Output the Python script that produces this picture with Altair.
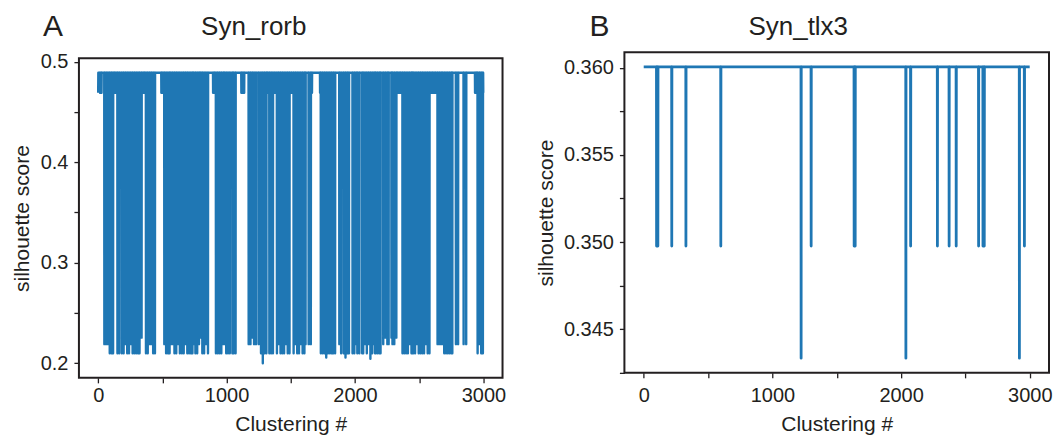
import altair as alt
import pandas as pd

FONT = "Liberation Sans"
INK = "#231f20"
BLUE = "#1f77b4"

panel_letters = ["A", "B"]
panel_titles = ["Syn_rorb", "Syn_tlx3"]
x_title = "Clustering #"
y_title = "silhouette score"

n_clusterings = 3000
x_ticks = [0, 500, 1000, 1500, 2000, 2500, 3000]

# ---- Syn_rorb: value sits at the top level, with dips to the shoulder and to the low levels
rorb_top = 0.489
rorb_mid = 0.469
rorb_mid_x = [0, 14, 26, 126, 138, 350, 360, 492, 504, 792, 895, 905, 1115, 1127, 1137,
              1320, 1376, 1505, 1665, 1728, 2332, 2344, 2356, 2592, 2604, 2616, 2628,
              2935, 2945, 2999]
rorb_low_x = [48, 62, 76, 90, 104, 116,
              150, 164, 184, 198, 212, 226, 240, 254, 268, 282, 296, 310, 322, 338,
              372, 386, 400, 414, 428, 442,
              515, 529, 543, 556,
              566, 580, 594, 608, 622, 636,
              652, 666, 680, 694, 708, 722, 734,
              743, 757, 771, 785,
              800,
              811, 825, 839, 855,
              917, 931, 945, 959, 975,
              983, 997, 1011, 1025, 1045,
              1055, 1070,
              1172, 1186, 1200, 1214,
              1229, 1250,
              1268, 1282, 1296, 1310,
              1333, 1347, 1361,
              1392, 1406, 1420, 1434, 1448, 1462, 1476, 1490,
              1522, 1536, 1550, 1564, 1578, 1592, 1606, 1615,
              1639, 1656,
              1734, 1748, 1762, 1776, 1790, 1804, 1818,
              1831, 1845, 1878, 1892, 1912, 1926, 1940, 1953,
              1981, 1995, 2009, 2018,
              2034, 2056,
              2064, 2078, 2092, 2106, 2120, 2134, 2148, 2156,
              2162, 2176, 2190, 2199,
              2220, 2236, 2252,
              2262, 2284,
              2292, 2306, 2322,
              2370, 2384, 2398, 2412, 2426, 2440, 2446,
              2454, 2468, 2482, 2496, 2510, 2524, 2538, 2552, 2566, 2580,
              2643, 2657, 2671, 2680,
              2695, 2709, 2723, 2737, 2751, 2758,
              2786, 2803,
              2846, 2866,
              2955, 2969, 2983, 2996]
rorb_low_y = [0.219, 0.219, 0.219, 0.210, 0.210, 0.210,
              0.210, 0.210, 0.210, 0.210, 0.219, 0.210, 0.210, 0.219, 0.210, 0.210, 0.210, 0.210, 0.210, 0.2255,
              0.210, 0.210, 0.219, 0.219, 0.210, 0.210,
              0.219, 0.210, 0.210, 0.210,
              0.219, 0.219, 0.210, 0.210, 0.219, 0.210,
              0.210, 0.210, 0.219, 0.210, 0.210, 0.210, 0.210,
              0.219, 0.210, 0.210, 0.219,
              0.2255,
              0.210, 0.210, 0.219, 0.210,
              0.210, 0.210, 0.210, 0.210, 0.219,
              0.219, 0.210, 0.210, 0.210, 0.210,
              0.210, 0.210,
              0.219, 0.219, 0.2255, 0.219,
              0.219, 0.219,
              0.210, 0.200, 0.210, 0.210,
              0.210, 0.210, 0.210,
              0.210, 0.219, 0.210, 0.210, 0.210, 0.219, 0.210, 0.210,
              0.210, 0.219, 0.210, 0.210, 0.219, 0.210, 0.210, 0.219,
              0.219, 0.219,
              0.210, 0.210, 0.210, 0.2057, 0.210, 0.210, 0.210,
              0.210, 0.210, 0.219, 0.210, 0.210, 0.2057, 0.210, 0.210,
              0.210, 0.210, 0.219, 0.210,
              0.210, 0.210,
              0.210, 0.219, 0.210, 0.219, 0.2045, 0.210, 0.219, 0.210,
              0.210, 0.210, 0.210, 0.210,
              0.219, 0.2255, 0.219,
              0.219, 0.2255,
              0.219, 0.219, 0.2255,
              0.210, 0.210, 0.210, 0.210, 0.219, 0.210, 0.210,
              0.210, 0.210, 0.219, 0.210, 0.210, 0.210, 0.210, 0.219, 0.210, 0.210,
              0.219, 0.219, 0.219, 0.219,
              0.210, 0.210, 0.210, 0.210, 0.210, 0.210,
              0.219, 0.219,
              0.219, 0.219,
              0.210, 0.219, 0.210, 0.210]
rorb_y_ticks = [0.20, 0.25, 0.30, 0.35, 0.40, 0.45, 0.50]

# ---- Syn_tlx3
tlx3_top = 0.36006
tlx3_low_x = [100, 110, 218, 328, 599, 1223, 1301, 1635, 1643, 2037, 2074, 2282,
              2373, 2428, 2602, 2636, 2646, 2919, 2958]
tlx3_low_y = [0.34977, 0.34977, 0.34977, 0.34977, 0.34977, 0.34333, 0.34977, 0.34977,
              0.34977, 0.34333, 0.34977, 0.34977, 0.34977, 0.34977, 0.34977, 0.34977,
              0.34977, 0.34333, 0.34977]
tlx3_y_ticks = [0.3425, 0.345, 0.3475, 0.35, 0.3525, 0.355, 0.3575, 0.36]


def series(top, low_x, low_y, mid_x=(), mid=None):
    score = [top] * n_clusterings
    for i in mid_x:
        score[i] = mid
    for i, v in zip(low_x, low_y):
        score[i] = v
    return pd.DataFrame({"clustering": list(range(n_clusterings)), "score": score})


rorb_df = series(rorb_top, rorb_low_x, rorb_low_y, rorb_mid_x, rorb_mid)
tlx3_df = series(tlx3_top, tlx3_low_x, tlx3_low_y)


def panel(df, y_domain, y_ticks, y_fmt, y_expr, x_lab_pad, y_lab_pad, y_tit_pad,
          letter, letter_xy, title, title_xy, width, view_h, frame_top, line_w):
    frame_bottom = view_h
    line = alt.Chart(df).mark_line(color=BLUE, strokeWidth=line_w, strokeJoin="round",
                                   clip=True).encode(
        x=alt.X("clustering:Q",
                scale=alt.Scale(domain=[-150, 3149], nice=False, zero=False),
                axis=alt.Axis(values=x_ticks, format="d",
                              labelExpr="datum.value % 1000 === 0 ? datum.label : ''",
                              title=x_title, labelPadding=x_lab_pad, titlePadding=8)),
        y=alt.Y("score:Q",
                scale=alt.Scale(domain=y_domain, nice=False, zero=False,
                                range=[frame_bottom, frame_top]),
                axis=alt.Axis(values=y_ticks, format=y_fmt, labelExpr=y_expr,
                              title=y_title, labelPadding=y_lab_pad,
                              titlePadding=y_tit_pad)),
    )
    one = pd.DataFrame({"t": [letter]})
    frame = alt.Chart(one).mark_rect(filled=False, stroke=INK, strokeWidth=2).encode(
        x=alt.value(0), x2=alt.value(width), y=alt.value(frame_top), y2=alt.value(frame_bottom)
    )
    let = alt.Chart(one).mark_text(
        font=FONT, fontSize=30, color=INK, align="left", baseline="alphabetic"
    ).encode(text="t:N", x=alt.value(letter_xy[0]), y=alt.value(letter_xy[1]))
    tit = alt.Chart(pd.DataFrame({"t": [title]})).mark_text(
        font=FONT, fontSize=26, color=INK, align="center", baseline="alphabetic"
    ).encode(text="t:N", x=alt.value(title_xy[0]), y=alt.value(title_xy[1]))
    return alt.layer(line, frame, tit, let).properties(width=width, height=view_h)


left = panel(rorb_df, [0.1855, 0.5035], rorb_y_ticks, ".1f",
             "abs(datum.value * 10 - round(datum.value * 10)) < 0.001 ? datum.label : ''",
             3, 6, 8, panel_letters[0], (-36, -16), panel_titles[0], (175, -17),
             424, 326, 6, 2.4)
right = panel(tlx3_df, [0.34249, 0.36090], tlx3_y_ticks, ".3f",
              "abs(datum.value * 200 - round(datum.value * 200)) < 0.001 ? datum.label : ''",
              8, 6, 7, panel_letters[1], (-35, -16), panel_titles[1], (174, -17),
              425, 321, 0, 2.8)

chart = alt.hconcat(left, right, spacing=28).properties(
    padding={"left": 3, "top": 4, "right": 0, "bottom": 0}
).configure_view(
    strokeWidth=0
).configure_axis(
    labelFont=FONT, labelFontSize=20, labelColor=INK,
    titleFont=FONT, titleFontSize=21, titleFontWeight="normal", titleColor=INK,
    tickColor=INK, tickWidth=1.3, tickSize=5, domain=False, grid=False,
    labelOverlap=False, labelFlush=False,
)

chart.save("out.html", embed_options={"renderer": "svg", "actions": False})
